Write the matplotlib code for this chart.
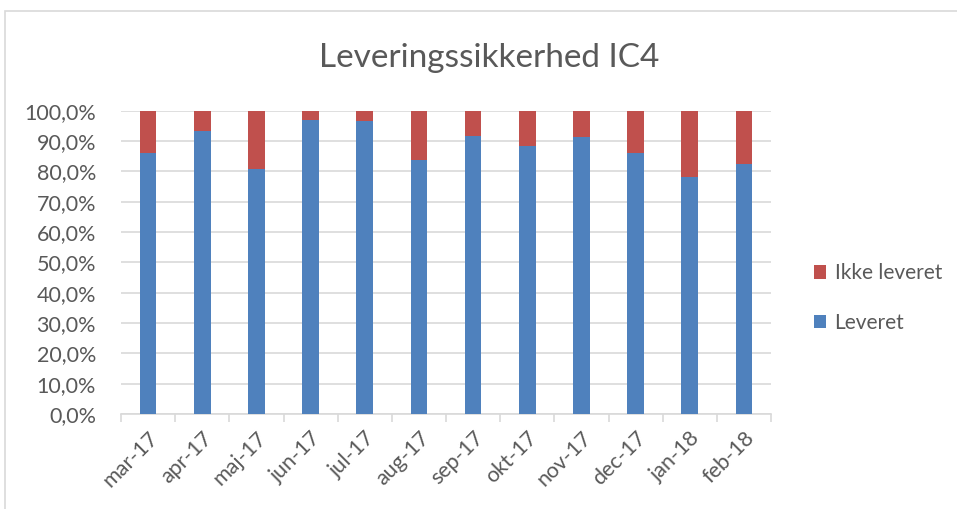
import numpy as np
import matplotlib.pyplot as plt
from matplotlib.patches import Rectangle
from matplotlib.ticker import FuncFormatter

months = ['mar-17', 'apr-17', 'maj-17', 'jun-17', 'jul-17', 'aug-17',
          'sep-17', 'okt-17', 'nov-17', 'dec-17', 'jan-18', 'feb-18']
leveret = [86.0, 93.3, 80.7, 96.8, 96.5, 83.9, 91.5, 88.5, 91.3, 86.2, 78.3, 82.3]
ikke_leveret = [100 - v for v in leveret]

plt.rcParams['font.family'] = ['Lato', 'DejaVu Sans']
grey = '#595959'

fig = plt.figure(figsize=(9.57, 5.09), dpi=100)
ax = fig.add_axes([121 / 957, 1 - 414 / 509, 650 / 957, 303.3 / 509])

# chart border
fig.patches.append(Rectangle((5 / 957, -0.1), 1.2, (509 - 11) / 509 + 0.1,
                             transform=fig.transFigure, fill=False,
                             edgecolor='#D9D9D9', linewidth=1.2))

x = np.arange(len(months))
ax.bar(x, leveret, width=0.31, color='#4F81BD', label='Leveret', zorder=3)
ax.bar(x, ikke_leveret, width=0.31, bottom=leveret, color='#C0504D',
       label='Ikke leveret', zorder=3)

ax.set_xlim(-0.5, len(months) - 0.5)
ax.set_ylim(0, 100)
ax.set_yticks(np.arange(0, 101, 10))
ax.yaxis.set_major_formatter(FuncFormatter(lambda v, p: f'{v:.1f}%'.replace('.', ',')))
ax.yaxis.grid(True, color='#D9D9D9', linewidth=1.2, zorder=0)
ax.tick_params(axis='y', length=0, labelsize=15.5, labelcolor=grey, pad=18)

ax.set_xticks(x)
ax.set_xticklabels(months, rotation=45, ha='right', rotation_mode='anchor')
ax.tick_params(axis='x', length=0, labelsize=15.5, labelcolor=grey, pad=10)
ax.set_xticks(np.arange(-0.5, len(months)), minor=True)
ax.tick_params(axis='x', which='minor', length=6, color='#D9D9D9', width=1.2)

for s in ['top', 'right', 'left']:
    ax.spines[s].set_visible(False)
ax.spines['bottom'].set_color('#D9D9D9')
ax.spines['bottom'].set_linewidth(1.2)

fig.text(489 / 957, 1 - 58 / 509, 'Leveringssikkerhed IC4', ha='center', va='center',
         fontsize=24, color=grey)

handles, labels = ax.get_legend_handles_labels()
ax.legend(handles[::-1], labels[::-1], loc='center left', bbox_to_anchor=(795 / 957, 1 - 298 / 509),
          bbox_transform=fig.transFigure, frameon=False, fontsize=15,
          labelcolor=grey, handlelength=0.6, handleheight=0.6, handletextpad=0.4,
          labelspacing=1.4)

fig.savefig('out.png', dpi=100)
